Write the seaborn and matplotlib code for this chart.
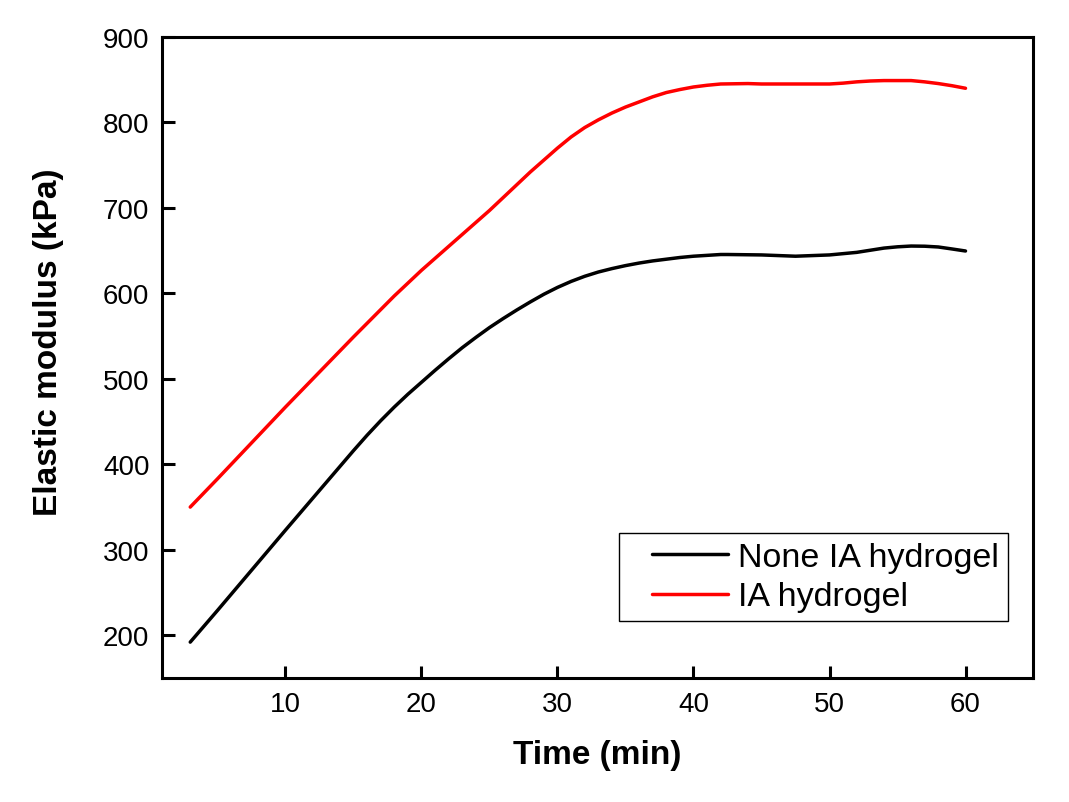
import matplotlib
matplotlib.use("Agg")
import matplotlib.pyplot as plt
from matplotlib.lines import Line2D
from matplotlib.legend_handler import HandlerLine2D
import seaborn as sns
import pandas as pd

# ---- data ----
time_none = [3, 5, 10, 15, 16, 17, 18, 19, 20, 21, 22, 23, 24, 25, 26, 27, 28, 29, 30,
             31, 32, 33, 34, 35, 36, 37, 38, 39, 40, 42, 42.5, 45, 47.5, 50, 51, 52, 53,
             54, 55, 56, 57, 58, 59, 60]
modulus_none = [192, 229, 323, 416, 434, 451, 467, 482, 496, 510, 523.5, 536.5, 548.5, 560, 570.5,
                580.5, 590, 599, 607, 614, 620, 625, 629, 632.5, 635.5, 638, 640, 642, 643.5,
                645.5, 645.5, 645, 643.5, 645, 646.5, 648, 650.5, 653, 654.5, 655.4, 655.2,
                654.3, 652, 649.6]

time_ia = [3, 5, 10, 15, 16, 17, 18, 19, 20, 21, 22, 23, 24, 25, 26, 27, 28, 29, 30,
           31, 32, 33, 34, 35, 36, 37, 38, 39, 40, 41, 42, 44, 45, 50, 51, 52, 53, 54,
           55, 56, 57, 58, 59, 60]
modulus_ia = [350, 383, 467, 549, 565, 581, 597, 612, 627, 641, 655, 669, 683, 697, 712,
              727, 742, 756, 770, 783, 794, 803, 811, 818, 824, 830, 835, 838.5, 841.5,
              843.5, 845, 845.5, 845, 845, 846, 847.5, 848.5, 849, 849, 849, 847.5, 845.5,
              843, 840]

series_labels = ["None IA hydrogel", "IA hydrogel"]
x_ticks = [10, 20, 30, 40, 50, 60]
y_ticks = [200, 300, 400, 500, 600, 700, 800, 900]

df = pd.concat([
    pd.DataFrame({"Time": time_none, "Modulus": modulus_none, "Series": series_labels[0]}),
    pd.DataFrame({"Time": time_ia, "Modulus": modulus_ia, "Series": series_labels[1]}),
], ignore_index=True)

sns.set_theme(style="ticks")
plt.rcParams["font.family"] = ["Liberation Sans", "DejaVu Sans"]
plt.rcParams["text.color"] = "black"
plt.rcParams["axes.labelcolor"] = "black"

fig = plt.figure(figsize=(10.69, 8.03), dpi=100)
ax = fig.add_axes([0.1515, 0.1544, 0.8148, 0.7983])

sns.lineplot(data=df, x="Time", y="Modulus", hue="Series",
             palette={series_labels[0]: "#000000", series_labels[1]: "#ff0000"},
             linewidth=2.5, ax=ax, sort=True, estimator=None)

ax.set_xlim(0.92, 64.96)
ax.set_ylim(150, 900)
ax.set_xticks(x_ticks)
ax.set_yticks(y_ticks)

for s in ax.spines.values():
    s.set_linewidth(2.2)
    s.set_color("black")
ax.tick_params(axis="both", direction="in", length=9, width=2.2,
               labelsize=20, pad=9, colors="black", top=False, right=False)

ax.set_xlabel("Time (min)", fontsize=24, fontweight="bold", labelpad=16, color="black")
ax.set_ylabel("Elastic modulus (kPa)", fontsize=24, fontweight="bold", color="black")
ax.yaxis.set_label_coords(-0.113, 0.526)

leg = ax.legend(loc="lower right", bbox_to_anchor=(0.971, 0.089), fontsize=24.5,
                frameon=True, fancybox=False, framealpha=1, edgecolor="black",
                handlelength=2.95, handletextpad=0.3, labelspacing=0.25,
                borderpad=0.25, borderaxespad=0.0, title=None,
                handler_map={Line2D: HandlerLine2D(xpad=0.7)})
leg.get_frame().set_linewidth(1.0)
for line in leg.get_lines():
    line.set_linewidth(2.5)
for t in leg.get_texts():
    t.set_color("black")

fig.savefig("out.png", dpi=100)
